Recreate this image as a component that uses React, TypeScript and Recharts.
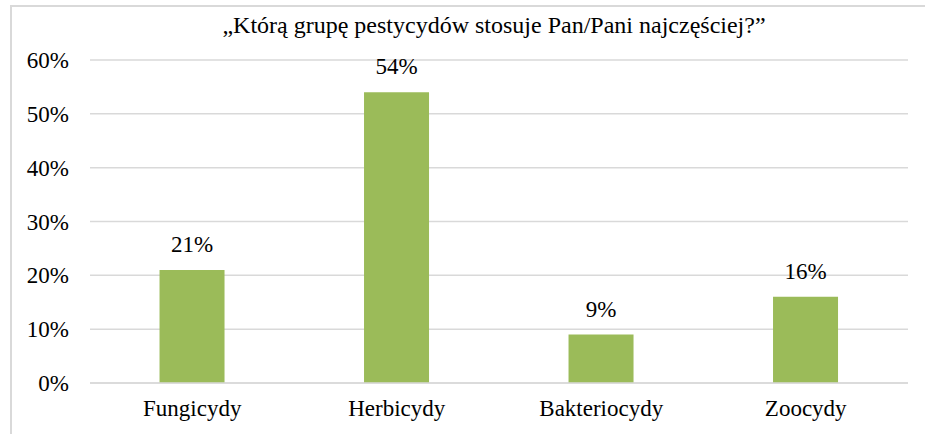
import { BarChart, Bar, XAxis, YAxis, CartesianGrid, LabelList } from 'recharts'

const CATEGORIES = ['Fungicydy', 'Herbicydy', 'Bakteriocydy', 'Zoocydy']
const SHARES = [21, 54, 9, 16]
const Y_TICKS = [0, 10, 20, 30, 40, 50, 60]
const TITLE = '„Którą grupę pestycydów stosuje Pan/Pani najczęściej?”'

const FONT = "'Times New Roman', 'Liberation Serif', serif"

const data = CATEGORIES.map((name, i) => ({ name, value: SHARES[i] }))

export default function App() {
  return (
    <div style={{ position: 'absolute', left: 0, top: 0, width: 925, height: 434, background: '#fff', fontFamily: FONT }}>
      <div style={{ position: 'absolute', left: 10, top: 5, width: 915, height: 429, borderLeft: '2px solid #d9d9d9', borderTop: '2px solid #d9d9d9', boxSizing: 'border-box' }} />
      <BarChart
        width={925}
        height={434}
        data={data}
        margin={{ top: 60, right: 17, bottom: 21, left: 10 }}
        barCategoryGap="34%"
        style={{ fontFamily: FONT }}
      >
        <text x={494} y={33} textAnchor="middle" fontSize={24} fill="#000" fontFamily={FONT}>
          {TITLE}
        </text>
        <CartesianGrid vertical={false} stroke="#d9d9d9" strokeWidth={1.5} />
        <XAxis
          dataKey="name"
          axisLine={{ stroke: '#d9d9d9', strokeWidth: 1.5 }}
          tickLine={false}
          tickSize={0}
          tickMargin={17}
          tick={{ fill: '#000', fontSize: 23, fontFamily: FONT }}
        />
        <YAxis
          domain={[0, 60]}
          ticks={Y_TICKS}
          width={80}
          axisLine={false}
          tickLine={false}
          tickSize={0}
          tickMargin={21}
          tickFormatter={(v: number) => `${v}%`}
          tick={{ fill: '#000', fontSize: 23, fontFamily: FONT }}
        />
        <Bar dataKey="value" fill="#9bbb59" isAnimationActive={false}>
          <LabelList
            dataKey="value"
            position="top"
            offset={18}
            formatter={(v: number) => `${v}%`}
            fill="#000"
            fontSize={23}
            fontFamily={FONT}
          />
        </Bar>
      </BarChart>
    </div>
  )
}
